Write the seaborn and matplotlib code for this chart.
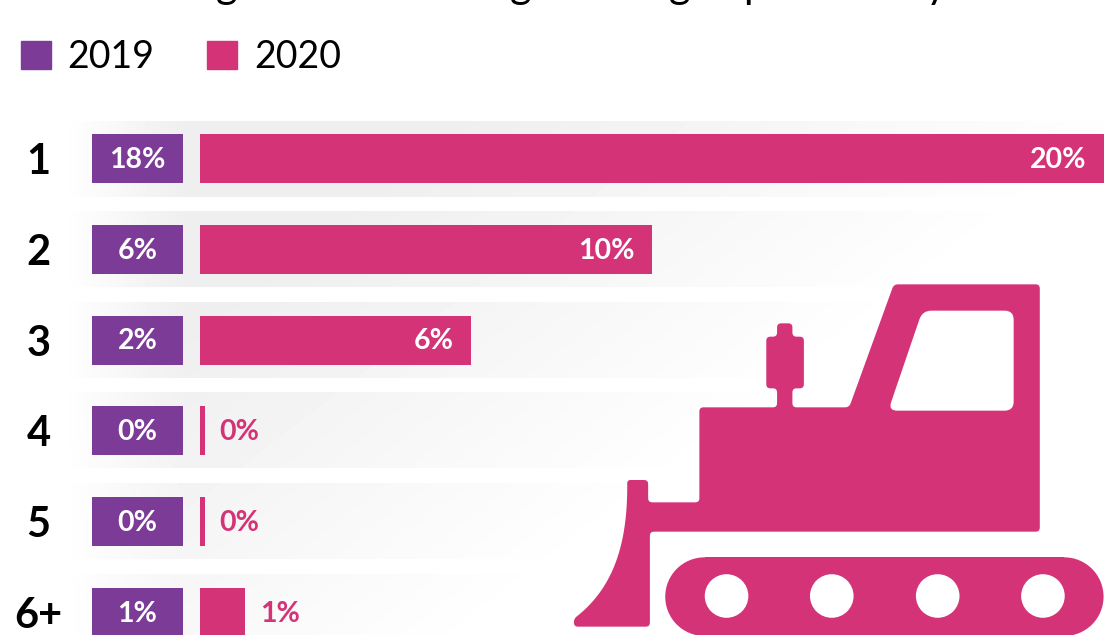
import numpy as np
import pandas as pd
import matplotlib
matplotlib.use("Agg")
import matplotlib.pyplot as plt
from matplotlib.patches import Rectangle, PathPatch, Circle
from matplotlib.path import Path
import seaborn as sns

# ---- data ----
rows = ["1", "2", "3", "4", "5", "6+"]
share_2019 = [18, 6, 2, 0, 0, 1]
share_2020 = [20, 10, 6, 0, 0, 1]
series_names = ["2019", "2020"]

PURPLE = "#7b3b96"
PINK = "#d43377"
W, H = 1107, 635
PITCH = 90.8
ROW0 = 158.5
BAR_FRAC = 49 / PITCH
STUB = 0.1  # so a 0% value still shows as a thin mark

sns.set_theme(style="white")
plt.rcParams["font.family"] = ["Lato", "DejaVu Sans"]

fig = plt.figure(figsize=(W / 100, H / 100), dpi=100, facecolor="white")


def axes_px(x0, x1, y0, y1, **kw):
    return fig.add_axes([x0 / W, 1 - y1 / H, (x1 - x0) / W, (y1 - y0) / H], **kw)


# ---- background bands with a fading diagonal gradient ----
bg = axes_px(0, W, 0, H, zorder=0)
bg.set_xlim(0, W)
bg.set_ylim(H, 0)
bg.axis("off")
yy, xx = np.mgrid[0:H, 0:W]
left_fade = np.clip((xx - 62) / 125, 0, 1)
diag = np.clip((1310 - (xx + 1.3 * yy)) / 700, 0, 1)
shade = 1 - 0.065 * left_fade * diag
img = bg.imshow(shade, cmap="gray", vmin=0, vmax=1, extent=(0, W, H, 0),
                aspect="auto", interpolation="bilinear")
band_tops = [121, 211, 302, 392, 483, 574]
verts, codes = [], []
for t in band_tops:
    verts += [(0, t), (W, t), (W, t + 76), (0, t + 76), (0, t)]
    codes += [Path.MOVETO, Path.LINETO, Path.LINETO, Path.LINETO, Path.CLOSEPOLY]
img.set_clip_path(PathPatch(Path(verts, codes), transform=bg.transData))

# ---- 2020 bars (width is proportional to the value) ----
y_top = ROW0 - PITCH / 2
y_bot = y_top + PITCH * 6
ax = axes_px(200, 1104, y_top, y_bot, zorder=2)
df = pd.DataFrame({"row": rows, "y2019": share_2019, "y2020": share_2020})
df["drawn"] = np.maximum(df["y2020"], STUB)
sns.barplot(data=df, x="drawn", y="row", order=rows, color=PINK, saturation=1,
            width=BAR_FRAC, ax=ax, linewidth=0)
ax.set_xlim(0, 20)
ax.set_ylim(5.5, -0.5)
ax.patch.set_alpha(0)
ax.set(xlabel="", ylabel="", xticks=[], yticks=[])
sns.despine(ax=ax, left=True, bottom=True)
for i, v in enumerate(share_2020):
    if v >= 5:
        ax.annotate(f"{v}%", (v, i), xytext=(-12.5, -1), textcoords="offset points",
                    ha="right", va="center", color="white", fontsize=20.5, fontweight="bold")
    else:
        ax.annotate(f"{v}%", (max(v, STUB), i), xytext=(10.5, -1), textcoords="offset points",
                    ha="left", va="center", color=PINK, fontsize=20.5, fontweight="bold")

# ---- 2019 tiles (fixed width, value only as text) ----
tile = axes_px(92, 183, y_top, y_bot, zorder=2)
sns.barplot(x=[1] * len(rows), y=rows, order=rows, color=PURPLE, saturation=1,
            width=BAR_FRAC, ax=tile, linewidth=0)
tile.set_xlim(0, 1)
tile.set_ylim(5.5, -0.5)
tile.patch.set_alpha(0)
tile.set(xlabel="", ylabel="", xticks=[])
sns.despine(ax=tile, left=True, bottom=True)
tile.tick_params(axis="y", length=0, pad=38.5)
for lab in tile.get_yticklabels():
    lab.set_ha("center")
    lab.set_fontsize(30)
    lab.set_fontweight("bold")
    lab.set_color("black")
for i, v in enumerate(share_2019):
    tile.annotate(f"{v}%", (0.5, i), xytext=(0, -1), textcoords="offset points",
                  ha="center", va="center", color="white", fontsize=20.5, fontweight="bold")

# ---- legend ----
handles = [Rectangle((0, 0), 1, 1, color=PURPLE), Rectangle((0, 0), 1, 1, color=PINK)]
leg = fig.legend(handles, series_names, loc="upper left", bbox_to_anchor=(20.5 / W, 1 - 39 / H),
                 ncols=2, frameon=False, handlelength=0.8, handleheight=0.8,
                 handletextpad=0.44, columnspacing=1.42, borderpad=0, borderaxespad=0,
                 labelcolor="black",
                 prop={"family": "Lato", "size": 27})

# ---- illustration and cropped heading ----
ov = axes_px(0, W, 0, H, zorder=3)
ov.set_xlim(0, W)
ov.set_ylim(H, 0)
ov.axis("off")


def P(zx, zy):
    return 560 + zx / 2.87, 270 + zy / 3


def rounded(points, r=9.0):
    """Closed path through zoom-space corners with rounded corners."""
    pts = [np.array(P(*p)) for p in points]
    n = len(pts)
    v, c = [], []
    for i in range(n):
        a, b, d = pts[i - 1], pts[i], pts[(i + 1) % n]
        u1 = (a - b) / np.linalg.norm(a - b)
        u2 = (d - b) / np.linalg.norm(d - b)
        rr = min(r / 2.9, np.linalg.norm(a - b) / 2, np.linalg.norm(d - b) / 2)
        s, e = b + u1 * rr, b + u2 * rr
        v.append(s); c.append(Path.MOVETO if i == 0 else Path.LINETO)
        v += [b, e]; c += [Path.CURVE3, Path.CURVE3]
    v.append(v[0]); c.append(Path.CLOSEPOLY)
    return v, c


# blade edge: a smooth cubic curve in zoom space
t = np.linspace(0, 1, 24)[:, None]
b0, b1, b2, b3 = map(np.array, [(40, 1046), (150, 960), (193, 830), (193, 650)])
blade = ((1 - t) ** 3 * b0 + 3 * (1 - t) ** 2 * t * b1 + 3 * (1 - t) * t ** 2 * b2 + t ** 3 * b3)
body = ([(958, 43), (1377, 43), (1377, 785), (258, 785), (258, 1070), (40, 1070)]
        + [tuple(p) for p in blade]
        + [(193, 630), (253, 630), (253, 697), (400, 697), (400, 412), (623, 412), (623, 355),
           (592, 355), (592, 200), (623, 200), (623, 160), (667, 160), (667, 200), (700, 200),
           (700, 355), (667, 355), (667, 412), (830, 412)])
v, c = rounded(body, 12)
ov.add_patch(PathPatch(Path(v, c), facecolor=PINK, edgecolor="none"))
window = [(1040, 122), (1302, 122), (1302, 422), (942, 422)]
v, c = rounded(window, 26)
ov.add_patch(PathPatch(Path(v, c), facecolor="white", edgecolor="none"))

# tracks: a stadium shape
tx0, ty0 = P(302, 862)
tx1, ty1 = P(1560, 1098)
rad = (ty1 - ty0) / 2
ov.add_patch(Rectangle((tx0 + rad, ty0), tx1 - tx0 - 2 * rad, ty1 - ty0,
                       facecolor=PINK, edgecolor="none"))
for cx in (tx0 + rad, tx1 - rad):
    ov.add_patch(Circle((cx, ty0 + rad), rad, facecolor=PINK, edgecolor="none"))
for zx in [478, 780, 1084, 1386]:
    cx, cy = P(zx, 978)
    ov.add_patch(Circle((cx, cy), 21.8, facecolor="white", edgecolor="none"))

for ch, x in zip("gggpy", [227, 521, 680, 755, 936]):
    ov.text(x, -2, ch, ha="center", va="baseline", fontsize=30, color="black",
            clip_on=False)

fig.savefig("out.png", dpi=100)
